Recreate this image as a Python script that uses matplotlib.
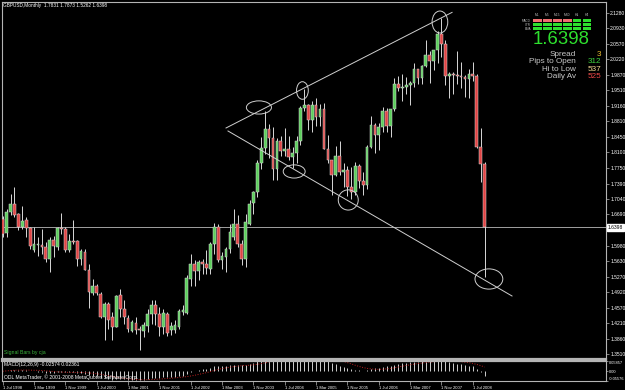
import matplotlib
matplotlib.use("Agg")
import matplotlib.pyplot as plt
import matplotlib.transforms as mtransforms
from matplotlib.patches import Ellipse, Rectangle
import numpy as np

# GBPUSD monthly candles, Jul 1998 .. Oct 2008
opens = [1.6596, 1.6269, 1.6748, 1.6922, 1.6710, 1.6406, 1.6558, 1.6391, 1.5874, 1.6000,
         1.6004, 1.5950, 1.5685, 1.6117, 1.5950, 1.6383, 1.6368, 1.5890, 1.6079, 1.6079,
         1.5677, 1.5836, 1.5434, 1.4910, 1.5054, 1.4887, 1.4356, 1.4660, 1.4356, 1.4128,
         1.4849, 1.4546, 1.4341, 1.4037, 1.4219, 1.4090, 1.4037, 1.4143, 1.4417, 1.4622,
         1.4432, 1.4128, 1.4432, 1.4067, 1.4052, 1.4128, 1.4470, 1.4447, 1.5230, 1.5556,
         1.5404, 1.5609, 1.5571, 1.5457, 1.6027, 1.6407, 1.5647, 1.5723, 1.5913, 1.6187,
         1.6483, 1.6027, 1.5685, 1.6483, 1.6940, 1.7200, 1.7860, 1.8210, 1.8640, 1.8420,
         1.7720, 1.8350, 1.8130, 1.8180, 1.7990, 1.8090, 1.8370, 1.9110, 1.9190, 1.8830,
         1.9190, 1.8900, 1.9080, 1.8190, 1.7920, 1.7580, 1.8010, 1.7660, 1.7690, 1.7310,
         1.7190, 1.7800, 1.7460, 1.7360, 1.8230, 1.8720, 1.8500, 1.8680, 1.9040, 1.8700,
         1.9090, 1.9650, 1.9570, 1.9600, 1.9630, 1.9680, 1.9990, 1.9790, 2.0070, 2.0320,
         2.0170, 2.0430, 2.0800, 2.0570, 1.9850, 1.9890, 1.9860, 1.9850, 1.9810, 1.9780,
         1.9890, 1.9840, 1.8230, 1.7831]
highs = [1.6650, 1.6824, 1.7165, 1.7317, 1.6725, 1.6877, 1.6634, 1.6406, 1.6406, 1.6178,
         1.6368, 1.6064, 1.6178, 1.6193, 1.6406, 1.6725, 1.6406, 1.6254, 1.6558, 1.6117,
         1.5912, 1.5912, 1.5571, 1.5214, 1.5115, 1.4925, 1.4698, 1.4698, 1.4470, 1.4849,
         1.5001, 1.4736, 1.4394, 1.4280, 1.4356, 1.4150, 1.4242, 1.4546, 1.4751, 1.4736,
         1.4584, 1.4546, 1.4470, 1.4242, 1.4280, 1.4546, 1.4622, 1.5306, 1.5799, 1.5662,
         1.5647, 1.5685, 1.5875, 1.6065, 1.6498, 1.6467, 1.5837, 1.5951, 1.6483, 1.6824,
         1.6672, 1.6103, 1.6710, 1.7014, 1.7230, 1.7920, 1.8460, 1.9050, 1.8750, 1.8680,
         1.8440, 1.8470, 1.8650, 1.8480, 1.8220, 1.8480, 1.9160, 1.9550, 1.9200, 1.9280,
         1.9330, 1.9200, 1.9220, 1.8490, 1.7930, 1.8240, 1.8350, 1.7870, 1.7800, 1.7760,
         1.7880, 1.7830, 1.7650, 1.8260, 1.8920, 1.8780, 1.8760, 1.9130, 1.9110, 1.9100,
         1.9790, 1.9850, 1.9880, 1.9810, 1.9730, 2.0130, 1.9990, 2.0090, 2.0660, 2.0410,
         2.0430, 2.0870, 2.1160, 2.0650, 1.9940, 1.9920, 2.0400, 2.0150, 1.9870, 1.9990,
         2.0160, 1.9880, 1.8660, 1.7873]
lows = [1.6180, 1.6178, 1.6672, 1.6634, 1.6330, 1.6368, 1.6178, 1.5912, 1.5836, 1.5738,
        1.5799, 1.5609, 1.5381, 1.5723, 1.5874, 1.6239, 1.5836, 1.5836, 1.6026, 1.5510,
        1.5533, 1.5420, 1.4561, 1.4849, 1.4849, 1.4341, 1.3840, 1.4090, 1.3840, 1.4120,
        1.4356, 1.4204, 1.4014, 1.4014, 1.3977, 1.3597, 1.3901, 1.4014, 1.4204, 1.4166,
        1.3916, 1.3977, 1.3916, 1.3939, 1.3992, 1.4090, 1.4394, 1.4432, 1.5055, 1.5055,
        1.5192, 1.5343, 1.5343, 1.5343, 1.5799, 1.5609, 1.5457, 1.5381, 1.5814, 1.6103,
        1.5951, 1.5533, 1.5495, 1.6445, 1.6700, 1.7080, 1.7720, 1.8060, 1.7980, 1.7470,
        1.7480, 1.8020, 1.8030, 1.7940, 1.7740, 1.7870, 1.8260, 1.9050, 1.8600, 1.8570,
        1.8700, 1.8700, 1.8180, 1.7860, 1.7140, 1.7560, 1.7580, 1.7320, 1.7120, 1.7040,
        1.7130, 1.7290, 1.7140, 1.7280, 1.8200, 1.8090, 1.8150, 1.8560, 1.8570, 1.8450,
        1.9040, 1.9500, 1.9270, 1.9440, 1.9180, 1.9580, 1.9660, 1.9650, 2.0050, 1.9680,
        1.9970, 2.0140, 2.0280, 1.9630, 1.9340, 1.9440, 1.9660, 1.9560, 1.9360, 1.9340,
        1.9720, 1.8200, 1.7430, 1.5262]
closes = [1.6254, 1.6748, 1.6937, 1.6672, 1.6406, 1.6543, 1.6383, 1.5966, 1.6026, 1.6010,
          1.5950, 1.5685, 1.6117, 1.5966, 1.6383, 1.6360, 1.5890, 1.6087, 1.6064, 1.5685,
          1.5859, 1.5434, 1.4918, 1.5054, 1.4903, 1.4356, 1.4660, 1.4295, 1.4128, 1.4827,
          1.4546, 1.4356, 1.4090, 1.4242, 1.4067, 1.4067, 1.4166, 1.4432, 1.4637, 1.4432,
          1.4128, 1.4447, 1.3992, 1.4158, 1.4166, 1.4492, 1.4508, 1.5252, 1.5556, 1.5404,
          1.5609, 1.5571, 1.5480, 1.6027, 1.6407, 1.5647, 1.5738, 1.5913, 1.6293, 1.6483,
          1.6027, 1.5685, 1.6521, 1.6938, 1.7200, 1.7860, 1.8210, 1.8640, 1.8420, 1.7720,
          1.8350, 1.8130, 1.8180, 1.7990, 1.8090, 1.8370, 1.9110, 1.9190, 1.8830, 1.9190,
          1.8900, 1.9080, 1.8190, 1.7920, 1.7580, 1.8010, 1.7660, 1.7690, 1.7310, 1.7190,
          1.7800, 1.7460, 1.7360, 1.8230, 1.8720, 1.8500, 1.8680, 1.9040, 1.8700, 1.9090,
          1.9650, 1.9570, 1.9600, 1.9630, 1.9680, 1.9990, 1.9790, 2.0070, 2.0320, 2.0170,
          2.0430, 2.0800, 2.0570, 1.9850, 1.9890, 1.9860, 1.9850, 1.9810, 1.9780, 1.9890,
          1.9840, 1.8230, 1.7830, 1.6398]

date_labels = ["1 Jul 1998", "1 Mar 1999", "1 Nov 1999", "1 Jul 2000", "1 Mar 2001",
               "1 Nov 2001", "1 Jul 2002", "1 Mar 2003", "1 Nov 2003", "1 Jul 2004",
               "1 Mar 2005", "1 Nov 2005", "1 Jul 2006", "1 Mar 2007", "1 Nov 2007",
               "1 Jul 2008"]
price_ticks = [2.1280, 2.0930, 2.0570, 2.0220, 1.9870, 1.9510, 1.9160, 1.8810, 1.8450,
               1.8100, 1.7750, 1.7390, 1.7040, 1.6690, 1.5980, 1.5630, 1.5270, 1.4920,
               1.4570, 1.4210, 1.3860, 1.3510]
macd_ticks = [0.05857, 0.0, -0.05576]
macd_shown = (-0.02574, 0.02361)   # values printed in the MACD window header
last_price = 1.6398

# hand drawn objects (month index, price)
upper_line = ([57.0, 114.7], [1.8657, 2.1287])
lower_line = ([57.5, 130.0], [1.8589, 1.4835])
circles = [(65.4, 1.9124, 6.4, 0.030), (76.5, 1.9510, 3.0, 0.040),
           (74.4, 1.7668, 5.6, 0.030), (88.2, 1.7020, 5.1, 0.046),
           (111.6, 2.1068, 4.0, 0.050), (124.1, 1.5222, 7.1, 0.046)]

# signal bars panel
timeframes = ["M1", "M5", "M15", "M30", "H1", "H4"]
sig_rows = ["MACD", "STR", "EMA"]
sig_up = [[0, 0, 0, 0, 1, 1], [1, 1, 1, 1, 1, 1], [1, 1, 1, 1, 1, 1]]
info_names = ["Spread", "Pips to Open", "Hi to Low", "Daily Av"]
info_values = ["3", "312", "537", "525"]
info_colors = ["#f0c030", "#3ed23e", "#f0d890", "#f04848"]


def ema(v, n):
    k = 2.0 / (n + 1)
    out = np.empty_like(v)
    out[0] = v[0]
    for j in range(1, len(v)):
        out[j] = v[j] * k + out[j - 1] * (1 - k)
    return out


def main():
    plt.rcParams['font.family'] = ['Liberation Sans', 'DejaVu Sans']
    o = np.array(opens)
    h = np.array(highs)
    l = np.array(lows)
    c = np.array(closes)
    x = np.arange(len(c))

    W, H = 625, 390
    fig = plt.figure(figsize=(W / 100, H / 100), dpi=100, facecolor='black')
    grey = '#b4b4b4'

    ax = fig.add_axes([2 / W, (H - 359) / H, 604 / W, 357 / H], facecolor='black')
    ax.set_xlim(-0.18, 153.99)
    ax.set_ylim(1.3402, 2.1523)

    # candles
    up = c >= o
    ax.vlines(x, l, h, color='#d8d8d8', lw=0.7, zorder=2)
    body_lo = np.minimum(o, c)
    body_h = np.maximum(np.abs(c - o), 0.0012)
    cols = np.where(up, '#5ccf5c', '#e04444')
    ax.bar(x, body_h, bottom=body_lo, width=0.7, color=cols,
           edgecolor='#d8d8d8', linewidth=0.35, zorder=3)

    ax.axhline(last_price, color='#a0a0a0', lw=0.7, zorder=1)

    ax.plot(*upper_line, color='#d0d0d0', lw=0.7, zorder=4)
    ax.plot(*lower_line, color='#d0d0d0', lw=0.7, zorder=4)
    for cx, cy, w, hh in circles:
        ax.add_patch(Ellipse((cx, cy), w, hh, fill=False, edgecolor='#d0d0d0',
                             lw=0.7, zorder=4))

    ax.set_xticks([])
    ax.yaxis.tick_right()
    ax.set_yticks(price_ticks)
    ax.set_yticklabels(['%.4f' % t for t in price_ticks])
    ax.tick_params(axis='y', colors=grey, labelcolor='white', labelsize=3.6,
                   length=2, width=0.5, pad=1)
    for s in ax.spines.values():
        s.set_color(grey)
        s.set_linewidth(0.8)
    ax.spines['bottom'].set_linewidth(1.6)

    trans = mtransforms.blended_transform_factory(ax.transAxes, ax.transData)
    ax.text(1.0035, last_price, '%.4f' % last_price, transform=trans, fontsize=3.6,
            color='black', va='center', ha='left',
            bbox=dict(boxstyle='square,pad=0.15', fc='white', ec='white'))

    ax.text(0.004, 0.012, 'Signal Bars by cja', transform=ax.transAxes,
            color='#3cb43c', fontsize=3.7, va='bottom', ha='left')
    ax.text(0.002, 0.997, 'GBPUSD,Monthly  %.4f %.4f %.4f %.4f' % (o[-1], h[-1], l[-1], c[-1]),
            transform=ax.transAxes, color='white', fontsize=3.4, va='top', ha='left')

    # MACD window
    m = ema(c, 12) - ema(c, 26)
    sig = np.convolve(m, np.ones(9) / 9, mode='full')[:len(m)]
    sig[:8] = [m[:j + 1].mean() for j in range(8)]
    ax2 = fig.add_axes([2 / W, (H - 381) / H, 604 / W, 20 / H], facecolor='black')
    ax2.set_xlim(ax.get_xlim())
    ax2.set_ylim(-0.05576, 0.05857)
    ax2.vlines(x, 0, m, color='#d0d0d0', lw=0.7)
    ax2.plot(x, sig, color='#c02020', ls=':', lw=0.7)
    ax2.yaxis.tick_right()
    ax2.set_yticks(macd_ticks)
    ax2.set_yticklabels(['0.05857', '0.00', '-0.05576'])
    ax2.tick_params(axis='y', colors=grey, labelcolor='white', labelsize=2.9,
                    length=1.5, width=0.5, pad=0.5)
    lbls = ax2.get_yticklabels()
    lbls[0].set_va('top')
    lbls[2].set_va('bottom')
    ax2.set_xticks(np.arange(0, 121, 8))
    ax2.set_xticklabels(date_labels)
    ax2.tick_params(axis='x', colors=grey, labelcolor='white', labelsize=3.0,
                    length=3, width=0.5, pad=0.5, direction='out')
    for t in ax2.get_xticklabels():
        t.set_ha('left')
    for s in ax2.spines.values():
        s.set_color(grey)
        s.set_linewidth(0.8)
    ax2.spines['top'].set_linewidth(1.6)
    ax2.text(0.004, 0.93, 'MACD(12,26,9) %.5f %.5f' % macd_shown,
             transform=ax2.transAxes, color='white', fontsize=3.6, va='top')
    ax2.text(0.004, 0.05, 'ODL MetaTrader, \u00a9 2001-2008 MetaQuotes Software Corp.',
             transform=ax2.transAxes, color='white', fontsize=3.6, va='bottom')

    # signal bars panel (pixel overlay)
    ov = fig.add_axes([0, 0, 1, 1], facecolor='none')
    ov.set_xlim(0, W)
    ov.set_ylim(H, 0)
    ov.axis('off')
    col_x = [537.5, 547.5, 557.5, 567.5, 577.2, 587.0]
    row_y = [20.7, 24.7, 28.7]
    for tx, tf in zip(col_x, timeframes):
        ov.text(tx, 15.5, tf, color='#c0c0c0', fontsize=2.4, ha='center', va='center')
    for ry, name, states in zip(row_y, sig_rows, sig_up):
        ov.text(531, ry, name, color='#c0c0c0', fontsize=2.2, ha='right', va='center')
        for tx, st in zip(col_x, states):
            ov.add_patch(Rectangle((tx - 4.1, ry - 1.6), 8.2, 3.2, lw=0,
                                   color='#2ee02e' if st else '#f07070'))
    ov.text(561.5, 40, '%.4f' % last_price, color='#2ee02e', fontsize=13.4,
            ha='center', va='center')
    for k, (nm, val, vc) in enumerate(zip(info_names, info_values, info_colors)):
        yy = 54.2 + k * 7.6
        ov.text(576, yy, nm, color='#c8c8c8', fontsize=5.9, ha='right', va='center')
        ov.text(601, yy, val, color=vc, fontsize=5.9, ha='right', va='center')

    fig.savefig('out.png', dpi=100, facecolor='black')


main()
